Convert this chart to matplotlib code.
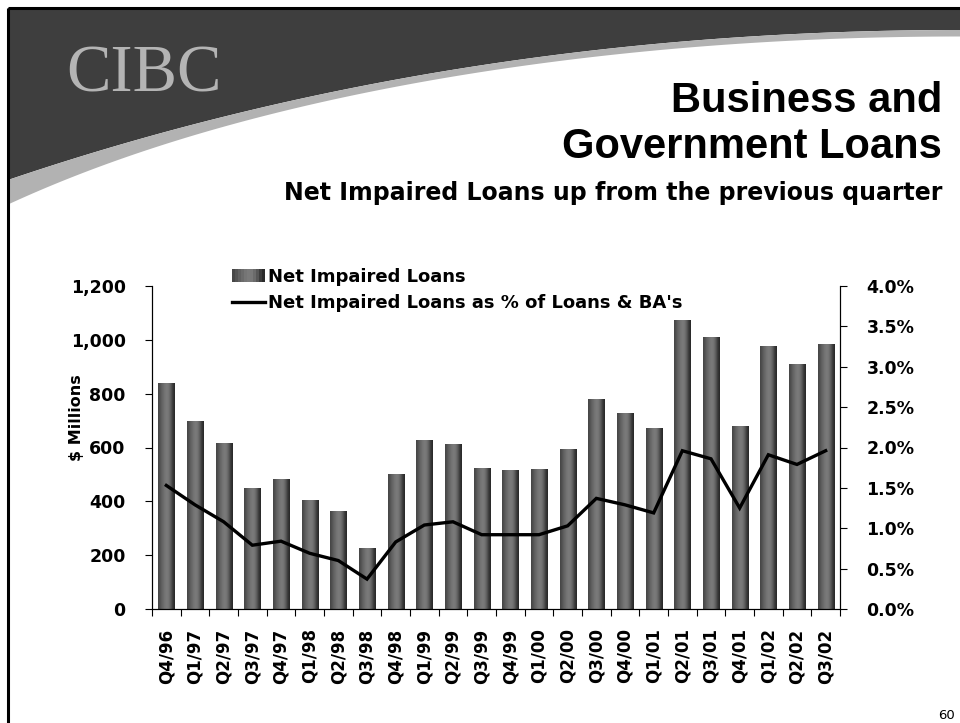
import numpy as np
import matplotlib.pyplot as plt
from matplotlib.patches import Rectangle, Polygon
from matplotlib.legend_handler import HandlerBase
from matplotlib.ticker import FixedLocator, MultipleLocator, FuncFormatter

# ------------------------------------------------------------
# Data
# ------------------------------------------------------------
quarters = ["Q4/96", "Q1/97", "Q2/97", "Q3/97", "Q4/97", "Q1/98", "Q2/98", "Q3/98",
            "Q4/98", "Q1/99", "Q2/99", "Q3/99", "Q4/99", "Q1/00", "Q2/00", "Q3/00",
            "Q4/00", "Q1/01", "Q2/01", "Q3/01", "Q4/01", "Q1/02", "Q2/02", "Q3/02"]
impaired = [836, 695, 614, 447, 480, 402, 361, 224, 499, 625, 610, 521,
            513, 517, 591, 777, 725, 669, 1070, 1007, 677, 974, 907, 981]
impaired_pct = [1.53, 1.29, 1.08, 0.79, 0.84, 0.69, 0.60, 0.37, 0.83, 1.04, 1.08, 0.92,
                0.92, 0.92, 1.03, 1.37, 1.29, 1.19, 1.96, 1.86, 1.25, 1.91, 1.79, 1.96]

left_ticks = [0, 200, 400, 600, 800, 1000, 1200]
right_ticks = [0.0, 0.5, 1.0, 1.5, 2.0, 2.5, 3.0, 3.5, 4.0]

# stripe shading across each bar (left edge -> right edge)
shade = np.array([0.28, 0.33, 0.38, 0.42, 0.46, 0.48, 0.47, 0.42, 0.34, 0.24, 0.17])

W, H = 960, 723
fig = plt.figure(figsize=(9.6, 7.23), dpi=100, facecolor="white")

# ------------------------------------------------------------
# Slide background: swoosh banner, frame, logo, titles
# ------------------------------------------------------------
bg = fig.add_axes([0, 0, 1, 1], zorder=-5)
bg.set_xlim(0, W)
bg.set_ylim(H, 0)
bg.axis("off")

t = np.linspace(0, 1, 200)
p0, p1, p2 = np.array([8, 180]), np.array([450, 30]), np.array([960, 30])
curve = ((1 - t) ** 2)[:, None] * p0 + (2 * t * (1 - t))[:, None] * p1 + (t ** 2)[:, None] * p2
band = curve.copy()
band[:, 1] += 6.5 + 18 * (1 - t) ** 6

dark = np.vstack([[8, 8], [W, 8], curve[::-1]])
bg.add_patch(Polygon(dark, closed=True, facecolor="#3e3e3e", edgecolor="none"))
grey = np.vstack([curve, band[::-1]])
bg.add_patch(Polygon(grey, closed=True, facecolor="#b2b2b2", edgecolor="none"))

bg.plot([8, W], [8, 8], color="black", lw=2.2, solid_capstyle="butt")
bg.plot([8, 8], [8, H], color="black", lw=2.2, solid_capstyle="butt")

bg.text(66, 92, "CIBC", family="Liberation Serif", fontsize=48, color="#b4b4b4",
        ha="left", va="baseline")
bg.text(942, 112, "Business and", family="Liberation Sans", weight="bold",
        fontsize=30, ha="right", va="baseline")
bg.text(942, 158, "Government Loans", family="Liberation Sans", weight="bold",
        fontsize=30, ha="right", va="baseline")
bg.text(942, 200, "Net Impaired Loans up from the previous quarter", family="DejaVu Sans",
        weight="bold", fontsize=17, ha="right", va="baseline")
bg.text(938, 719, "60", family="DejaVu Sans", fontsize=9.5, ha="left", va="baseline")

# ------------------------------------------------------------
# Chart
# ------------------------------------------------------------
ax = fig.add_axes([152 / W, 1 - 609 / H, 688 / W, 323 / H])
ax2 = ax.twinx()

x = np.arange(len(quarters))
bw = 0.56
for xi, v in zip(x, impaired):
    ax.imshow(shade[None, :], extent=(xi - bw / 2, xi + bw / 2, 0, v), cmap="gray",
              vmin=0, vmax=1, aspect="auto", interpolation="bilinear", zorder=2)

ax2.plot(x, impaired_pct, color="black", lw=2.4, solid_joinstyle="miter",
         label="Net Impaired Loans as % of Loans & BA's")

ax.set_xlim(-0.5, len(quarters) - 0.5)
ax.set_ylim(0, 1200)
ax2.set_ylim(0, 4.0)

ax.yaxis.set_major_locator(FixedLocator(left_ticks))
ax.yaxis.set_major_formatter(FuncFormatter(lambda v, p: f"{v:,.0f}"))
ax2.yaxis.set_major_locator(FixedLocator(right_ticks))
ax2.yaxis.set_major_formatter(FuncFormatter(lambda v, p: f"{v:.1f}%"))

ax.set_xticks(x)
ax.set_xticklabels(quarters, rotation=90, fontdict=dict(family="DejaVu Sans",
                                                         weight="bold", size=12))
ax.xaxis.set_minor_locator(MultipleLocator(1, offset=0.5))
ax.tick_params(axis="x", which="major", length=0, pad=14)
ax.tick_params(axis="x", which="minor", length=5, width=0.8, direction="out")
ax.tick_params(axis="y", length=5, width=0.8, direction="out", pad=14)
ax2.tick_params(axis="y", length=5, width=0.8, direction="out", pad=14)

for lab in ax.get_yticklabels() + ax2.get_yticklabels():
    lab.set_fontfamily("DejaVu Sans")
    lab.set_fontweight("bold")
    lab.set_fontsize(12.5)

for a in (ax, ax2):
    a.spines["top"].set_visible(False)
    for s in ("left", "right", "bottom"):
        a.spines[s].set_linewidth(0.8)
ax.patch.set_visible(False)

fig.text(77 / W, 1 - 418 / H, "\\$ Millions", rotation=90, ha="center", va="center",
         family="DejaVu Sans", weight="bold", fontsize=11.5)


# legend with striped swatch for the bars
class StripeHandler(HandlerBase):
    def create_artists(self, legend, orig, xd, yd, width, height, fontsize, trans):
        n = len(shade)
        sw = width / n
        return [Rectangle((xd + i * sw, yd), sw * 1.02, height,
                          facecolor=plt.cm.gray(shade[i]), edgecolor="none", transform=trans)
                for i in range(n)]


bar_proxy = Rectangle((0, 0), 1, 1, label="Net Impaired Loans")
line_handle = ax2.get_lines()[0]
ax2.legend([bar_proxy, line_handle], ["Net Impaired Loans", "Net Impaired Loans as % of Loans & BA's"],
           handler_map={Rectangle: StripeHandler()},
           loc="upper left", bbox_to_anchor=(232 / W, 1 - 268 / H), bbox_transform=fig.transFigure,
           frameon=False, borderpad=0, borderaxespad=0, handlelength=1.8, handletextpad=0.2,
           labelspacing=0.45, prop=dict(family="DejaVu Sans", weight="bold", size=13))

fig.savefig("out.png", dpi=100, facecolor="white")
